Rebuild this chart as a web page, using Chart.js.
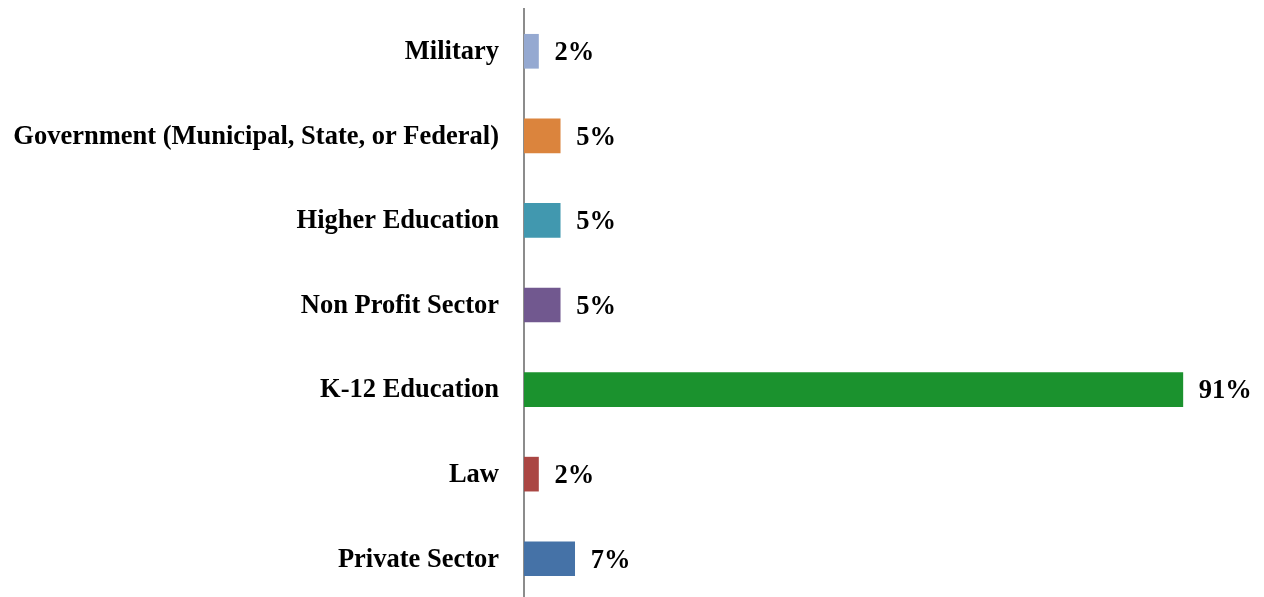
<!DOCTYPE html>
<html>
<head>
<meta charset="utf-8">
<script src="https://cdn.jsdelivr.net/npm/chart.js@4"></script>
<style>
  html, body { margin: 0; padding: 0; background: #fff; overflow: hidden; }
  #wrap { width: 1264px; height: 601px; }
</style>
</head>
<body>
<div id="wrap"><canvas id="chBar"></canvas></div>
<script>
// categories, top to bottom
var sectors = ['Military', 'Government (Municipal, State, or Federal)', 'Higher Education',
  'Non Profit Sector', 'K-12 Education', 'Law', 'Private Sector'];
// percent of respondents
var pctValues = [2, 5, 5, 5, 91, 2, 7];
var barColors = ['#95A9D1', '#DB843D', '#4198AF', '#71588F', '#1B922E', '#AA4643', '#4572A7'];

var labelFont = 'bold 26.5px "Liberation Serif", "Times New Roman", serif';

// value labels right of each bar
var valueLabels = {
  id: 'valueLabels',
  afterDatasetsDraw: function (chart) {
    var ctx = chart.ctx;
    var meta = chart.getDatasetMeta(0);
    ctx.save();
    ctx.font = labelFont;
    ctx.fillStyle = '#000';
    ctx.textAlign = 'left';
    ctx.textBaseline = 'middle';
    meta.data.forEach(function (bar, i) {
      ctx.fillText(pctValues[i] + '%', bar.x + 16, bar.y + 2);
    });
    ctx.restore();
  }
};

new Chart(document.getElementById('chBar'), {
  type: 'bar',
  data: {
    labels: sectors,
    datasets: [{
      data: pctValues,
      backgroundColor: barColors,
      borderWidth: 0,
      barThickness: 34
    }]
  },
  options: {
    indexAxis: 'y',
    responsive: true,
    maintainAspectRatio: false,
    animation: false,
    layout: { padding: { top: 9, right: 16, bottom: 0, left: 0 } },
    plugins: {
      legend: { display: false },
      tooltip: { enabled: false }
    },
    scales: {
      x: {
        display: false,
        min: 0,
        max: 100
      },
      y: {
        grid: { display: false, drawTicks: false },
        border: { display: true, color: '#8c8c8c', width: 2 },
        ticks: {
          color: '#000',
          padding: 25,
          labelOffset: 1,
          font: { family: '"Liberation Serif", "Times New Roman", serif', size: 26.5, weight: 'bold' }
        },
        afterFit: function (scale) {
          scale.width = 524;
          scale.paddingTop = 0;
          scale.paddingBottom = 0;
        }
      }
    }
  },
  plugins: [valueLabels]
});
</script>
</body>
</html>
